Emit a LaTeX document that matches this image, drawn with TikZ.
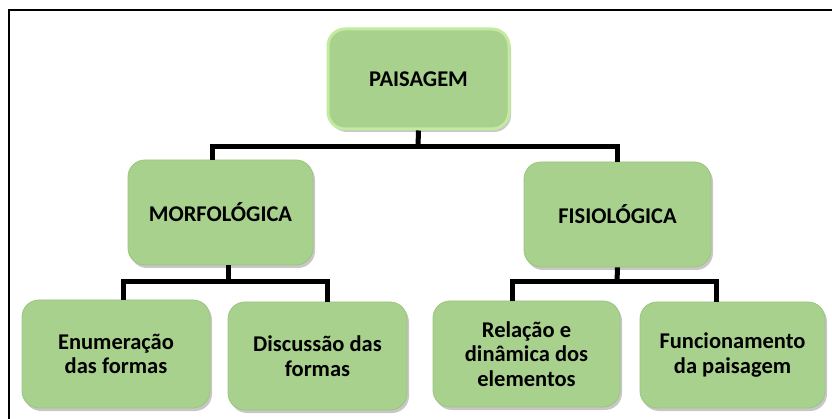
\documentclass[tikz,border=0pt]{standalone}
\usepackage{fontspec}
\setmainfont{Carlito}
\usetikzlibrary{shadows}
\definecolor{boxfill}{HTML}{A9D18E}
\definecolor{boxedge}{HTML}{9CC47F}
\definecolor{glow}{HTML}{C2EBA0}
\tikzset{
  box/.style={rounded corners=17pt, fill=boxfill, draw=boxedge, line width=0.8pt,
    align=center, inner sep=2pt, font=\bfseries\fontsize{22.5}{24.5}\selectfont,
    drop shadow={shadow xshift=2pt, shadow yshift=-3pt, opacity=0.22, fill=black}},
  rootbox/.style={box, draw=glow, line width=3pt},
  conn/.style={draw=black, line width=5pt, line join=miter}
}
\begin{document}
\begin{tikzpicture}[x=1pt,y=-1pt]
\useasboundingbox (0,0) rectangle (832,419);
\draw[line width=1.4pt] (9,419) -- (9,10) -- (832,10);

\node[rootbox, minimum width=181pt, minimum height=100pt] (root) at (418.5,79) {PAISAGEM};
\node[box, minimum width=185pt, minimum height=105pt] (morf) at (220.5,212.5) {MORFOLÓGICA};
\node[box, minimum width=187pt, minimum height=105pt] (fisi) at (617.5,214.5) {FISIOLÓGICA};
\node[box, minimum width=188pt, minimum height=108pt] (b1) at (116,354) {Enumeração\\das formas};
\node[box, minimum width=179pt, minimum height=108pt] (b2) at (317.5,356) {Discussão das\\formas};
\node[box, minimum width=187pt, minimum height=106pt] (b3) at (526.5,354) {Relação e\\dinâmica dos\\elementos};
\node[box, minimum width=185pt, minimum height=106pt] (b4) at (732.5,355) {Funcionamento\\da paisagem};

\coordinate (j1) at (418,146.5);
\coordinate (j2) at (228,282);
\coordinate (j3) at (617,282);

\draw[conn] (root.south) -- (j1);
\draw[conn] ([xshift=-8.5pt]morf.north) |- (j1) -| (fisi.north);
\draw[conn] ([xshift=7.5pt]morf.south) -- (j2);
\draw[conn] ([xshift=7pt]b1.north) |- (j2) -| ([xshift=9.5pt]b2.north);
\draw[conn] (fisi.south) -- (j3);
\draw[conn] ([xshift=-14.5pt]b3.north) |- (j3) -| ([xshift=-16.5pt]b4.north);
\end{tikzpicture}
\end{document}
